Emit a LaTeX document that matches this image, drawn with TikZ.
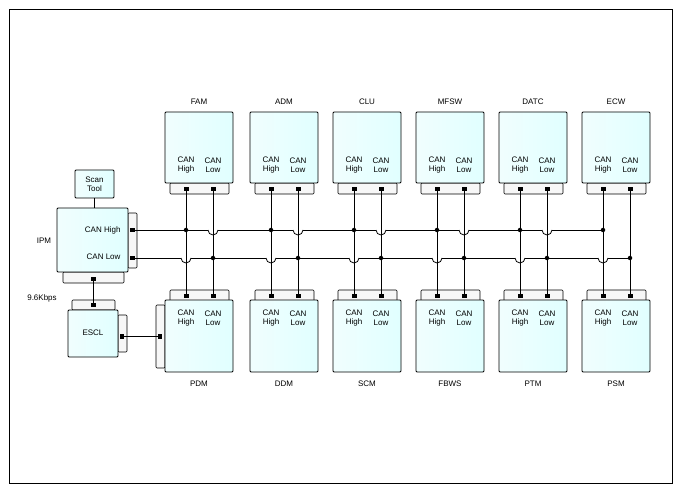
\documentclass[tikz,border=0pt]{standalone}
\usepackage{fontspec}
\setmainfont{Liberation Sans}
\begin{document}
\begin{tikzpicture}[x=1pt,y=-1pt,
  mod/.style={draw,line width=0.8pt,rounded corners=1pt,left color=red!5!cyan!6!white,right color=cyan!12!white},
  tabbox/.style={draw,line width=0.7pt,fill=white!94!gray,rounded corners=1pt},
  pin/.style={fill=black,minimum width=5pt,minimum height=4pt,inner sep=0pt},
  lbl/.style={font=\fontsize{8}{9.5}\selectfont,align=center},
  wire/.style={line width=0.8pt},
  dot/.style={circle,fill=black,inner sep=0pt,minimum size=4.5pt}]
\useasboundingbox (0,0) rectangle (681,492);
\draw[line width=0.7pt] (9,9) rectangle (672,483);
% IPM / Scan Tool / ESCL
\draw[tabbox] (128,213) rectangle (137,268);
\draw[tabbox] (63,272) rectangle (124,283);
\node[mod,minimum width=71pt,minimum height=64pt,inner sep=0pt] (ipm) at (92.5,240) {};
\node[lbl,anchor=east] at (124,230) {CAN High};
\node[lbl,anchor=east] at (124,257) {CAN Low};
\node[lbl] at (44,241) {IPM};
\node[lbl] at (42,298) {9.6Kbps};
\node[mod,minimum width=39pt,minimum height=28pt,inner sep=0pt,lbl] (scan) at (94.5,184) {Scan\\Tool};
\draw[wire] (scan.south) -- (ipm.north -| scan.south);
\node[pin] (ipmH) at (132,230) {};
\node[pin] (ipmL) at (132,258) {};
\node[pin] (ipmB) at (93,279) {};
\draw[tabbox] (72,300) rectangle (115,310);
\draw[tabbox] (118,315) rectangle (127,352);
\node[mod,minimum width=50pt,minimum height=47pt,inner sep=0pt] (escl) at (93,333.5) {};
\node[lbl] at (93,333) {ESCL};
\node[pin] (esclT) at (93,305) {};
\node[pin,minimum width=4pt,minimum height=5pt] (esclR) at (122,336) {};
\draw[wire] (ipmB) -- (esclT);
% PDM left tab
\draw[tabbox] (156,305) rectangle (165,368);
\node[pin,minimum width=4pt,minimum height=5pt] (pdmL) at (160,336) {};
\draw[wire] (esclR) -- (pdmL);
% modules
\foreach \x/\t/\b [count=\i] in {165/FAM/PDM,250/ADM/DDM,333/CLU/SCM,416/MFSW/FBWS,499/DATC/PTM,582/ECW/PSM}{
  \draw[tabbox] (\x+5,183) rectangle (\x+64,194);
  \node[mod,minimum width=68pt,minimum height=71pt,inner sep=0pt] (top\i) at (\x+34,147.5) {};
  \node[lbl] at (\x+34,102) {\t};
  \node[lbl] at (\x+21,165) {CAN\\High};
  \node[lbl] at (\x+48,165) {CAN\\Low};
  \draw[tabbox] (\x+5,290) rectangle (\x+64,301);
  \node[mod,minimum width=68pt,minimum height=72pt,inner sep=0pt] (bot\i) at (\x+34,336) {};
  \node[lbl] at (\x+34,384) {\b};
  \node[lbl] at (\x+21,318) {CAN\\High};
  \node[lbl] at (\x+48,318) {CAN\\Low};
  \node[pin] (tH\i) at (\x+21,189) {};
  \node[pin] (tL\i) at (\x+48,189) {};
  \node[pin] (bH\i) at (\x+21,296) {};
  \node[pin] (bL\i) at (\x+48,296) {};
  \coordinate (jH\i) at (\x+21,230);
  \coordinate (jL\i) at (\x+48,258);
}
% bus lines
\draw[wire] (ipmH) -- (jH6);
\draw[wire] (ipmL) -- (jL6);
% hops
\foreach \x in {165,250,333,416,499}{
  \fill[white] (\x+43,228.5) rectangle (\x+53,231.5);
  \draw[wire] (\x+43,230) arc[start angle=180,end angle=0,radius=5];
}
\foreach \x in {165,250,333,416,499,582}{
  \fill[white] (\x+16,256.5) rectangle (\x+26,259.5);
  \draw[wire] (\x+16,258) arc[start angle=180,end angle=0,radius=5];
}
% verticals
\foreach \i in {1,...,6}{
  \draw[wire] (tH\i) -- (bH\i);
  \draw[wire] (tL\i) -- (bL\i);
  \node[dot] at (jH\i) {};
  \node[dot] at (jL\i) {};
}
\end{tikzpicture}
\end{document}
